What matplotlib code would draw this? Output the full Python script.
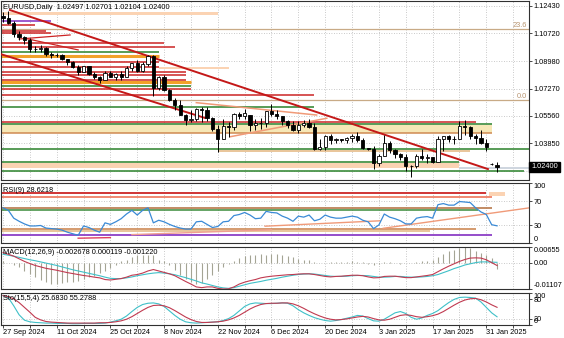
import numpy as np
import matplotlib.pyplot as plt

plt.rcParams['font.family'] = 'Liberation Sans'
plt.rcParams['font.size'] = 5.3

# daily EURUSD bars, 27 Sep 2024 .. 3 Feb 2025
opens = [1.1177, 1.1163, 1.1135, 1.1068, 1.1047, 1.1030, 1.0975, 1.0974, 1.0979, 1.0940,
         1.0936, 1.0937, 1.0908, 1.0890, 1.0862, 1.0830, 1.0866, 1.0817, 1.0797, 1.0781,
         1.0826, 1.0797, 1.0815, 1.0797, 1.0856, 1.0884, 1.0834, 1.0879, 1.0930, 1.0730,
         1.0800, 1.0720, 1.0655, 1.0623, 1.0565, 1.0530, 1.0540, 1.0600, 1.0595, 1.0543,
         1.0473, 1.0415, 1.0495, 1.0488, 1.0570, 1.0553, 1.0560, 1.0497, 1.0510, 1.0512,
         1.0587, 1.0568, 1.0555, 1.0527, 1.0500, 1.0467, 1.0500, 1.0515, 1.0490, 1.0350,
         1.0364, 1.0430, 1.0405, 1.0410, 1.0405, 1.0422, 1.0429, 1.0408, 1.0354, 1.0350,
         1.0266, 1.0307, 1.0388, 1.0344, 1.0318, 1.0299, 1.0244, 1.0247, 1.0308, 1.0292,
         1.0300, 1.0272, 1.0415, 1.0432, 1.0410, 1.0415, 1.0495, 1.0490, 1.0430, 1.0420,
         1.0390, 1.0256, 1.02497]
highs = [1.1202, 1.1209, 1.1144, 1.1083, 1.1053, 1.1044, 1.0990, 1.0999, 1.0985, 1.0955,
         1.0950, 1.0941, 1.0913, 1.0898, 1.0874, 1.0869, 1.0867, 1.0829, 1.0803, 1.0837,
         1.0835, 1.0824, 1.0834, 1.0870, 1.0886, 1.0905, 1.0889, 1.0937, 1.0937, 1.0805,
         1.0810, 1.0725, 1.0665, 1.0653, 1.0571, 1.0595, 1.0608, 1.0610, 1.0610, 1.0549,
         1.0497, 1.0535, 1.0517, 1.0576, 1.0580, 1.0597, 1.0565, 1.0537, 1.0545, 1.0590,
         1.0630, 1.0592, 1.0557, 1.0532, 1.0525, 1.0522, 1.0533, 1.0535, 1.0513, 1.0411,
         1.0440, 1.0445, 1.0420, 1.0415, 1.0428, 1.0443, 1.0455, 1.0420, 1.0360, 1.0370,
         1.0320, 1.0436, 1.0400, 1.0348, 1.0323, 1.0320, 1.0250, 1.0321, 1.0353, 1.0320,
         1.0303, 1.0432, 1.0433, 1.0439, 1.0430, 1.0522, 1.0533, 1.0495, 1.0445, 1.0466,
         1.0410, 1.0262, 1.02701]
lows = [1.1139, 1.1129, 1.1046, 1.1030, 1.1006, 1.0951, 1.0955, 1.0954, 1.0930, 1.0915,
        1.0925, 1.0902, 1.0871, 1.0855, 1.0810, 1.0830, 1.0811, 1.0785, 1.0761, 1.0781,
        1.0796, 1.0780, 1.0779, 1.0797, 1.0839, 1.0830, 1.0830, 1.0869, 1.0683, 1.0715,
        1.0713, 1.0652, 1.0595, 1.0560, 1.0497, 1.0517, 1.0522, 1.0520, 1.0523, 1.0460,
        1.0332, 1.0410, 1.0423, 1.0469, 1.0535, 1.0540, 1.0460, 1.0470, 1.0477, 1.0490,
        1.0558, 1.0537, 1.0502, 1.0480, 1.0460, 1.0452, 1.0490, 1.0480, 1.0343, 1.0343,
        1.0343, 1.0380, 1.0390, 1.0395, 1.0390, 1.0393, 1.0395, 1.0350, 1.0345, 1.0226,
        1.0246, 1.0306, 1.0323, 1.0292, 1.0280, 1.0214, 1.0178, 1.0233, 1.0285, 1.0265,
        1.0266, 1.0267, 1.0340, 1.0395, 1.0380, 1.0410, 1.0439, 1.0410, 1.0380, 1.0380,
        1.0340, 1.0253, 1.02104]
closes = [1.1163, 1.1135, 1.1068, 1.1047, 1.1030, 1.0975, 1.0974, 1.0979, 1.0940, 1.0936,
          1.0937, 1.0908, 1.0890, 1.0862, 1.0830, 1.0866, 1.0817, 1.0797, 1.0781, 1.0826,
          1.0797, 1.0815, 1.0797, 1.0856, 1.0884, 1.0834, 1.0879, 1.0930, 1.0730, 1.0800,
          1.0720, 1.0655, 1.0623, 1.0565, 1.0530, 1.0540, 1.0600, 1.0595, 1.0543, 1.0473,
          1.0415, 1.0495, 1.0488, 1.0570, 1.0553, 1.0577, 1.0497, 1.0510, 1.0512, 1.0587,
          1.0568, 1.0555, 1.0527, 1.0500, 1.0467, 1.0500, 1.0515, 1.0490, 1.0350, 1.0364,
          1.0430, 1.0405, 1.0410, 1.0405, 1.0422, 1.0429, 1.0408, 1.0354, 1.0350, 1.0266,
          1.0307, 1.0388, 1.0344, 1.0318, 1.0299, 1.0244, 1.0247, 1.0308, 1.0292, 1.0300,
          1.0272, 1.0415, 1.0432, 1.0410, 1.0415, 1.0495, 1.0490, 1.0430, 1.0420, 1.0390,
          1.0362, 1.0259, 1.02400]

rsi = [58.7, 54.4, 41.4, 36.2, 31.8, 28.4, 28.4, 29.2, 24.9, 24.0,
       23.2, 21.4, 18.0, 15.4, 12.8, 28.4, 25.8, 21.4, 18.0, 33.6,
       31.0, 35.3, 40.5, 48.3, 54.4, 46.6, 54.4, 58.7, 33.6, 37.9,
       35.3, 31.0, 27.5, 24.9, 23.2, 23.2, 35.3, 36.2, 31.0, 25.8,
       27.5, 35.3, 36.2, 45.7, 47.5, 50.9, 46.6, 40.5, 41.4, 52.7,
       50.9, 50.1, 44.8, 41.4, 36.2, 44.8, 43.1, 46.6, 37.0, 39.6,
       46.6, 43.1, 41.4, 41.4, 43.1, 44.8, 43.1, 37.9, 35.3, 24.0,
       30.1, 48.3, 43.1, 40.5, 37.0, 31.8, 31.8, 41.4, 43.1, 44.0,
       41.4, 63.9, 65.7, 63.1, 63.1, 69.1, 68.3, 67.4, 58.7, 51.8,
       47.5, 30.5, 28.6218]

macd_hist = [0.0005, -0.0003, -0.0008, -0.0020, -0.0035, -0.0048, -0.0060, -0.0072, -0.0082, -0.0088,
             -0.0088, -0.0085, -0.0083, -0.0080, -0.0076, -0.0070, -0.0062, -0.0055, -0.0045, -0.0035,
             -0.0022, -0.0010, 0.0005, 0.0012, 0.0022, 0.0030, 0.0033, 0.0034, 0.0030, 0.0012,
             0.0005, -0.0010, -0.0030, -0.0050, -0.0068, -0.0082, -0.0088, -0.0084, -0.0070, -0.0052,
             -0.0035, -0.0020, -0.0005, 0.0008, 0.0018, 0.0026, 0.0030, 0.0034, 0.0035, 0.0033,
             0.0038, 0.0038, 0.0033, 0.0028, 0.0022, 0.0016, 0.0012, 0.0009, 0.0004, -0.0003,
             -0.0002, 0.0003, 0.0002, 0.0001, 0.0003, 0.0005, 0.0004, 0.0002, -0.0004, -0.0008,
             -0.0006, 0.0002, 0.0001, 0.0000, -0.0004, -0.0003, -0.0002, 0.0003, 0.0005, 0.0008,
             0.0012, 0.0025, 0.0038, 0.0048, 0.0055, 0.0062, 0.00655, 0.0060, 0.0050, 0.0042,
             0.0032, 0.0018, -0.002678]
macd_red = [0.0042, 0.0035, 0.0027, 0.0016, 0.0005, -0.0004, -0.0012, -0.0018, -0.0024, -0.0028,
            -0.0032, -0.0037, -0.0042, -0.0046, -0.0050, -0.0054, -0.0057, -0.0061, -0.0064, -0.0071,
            -0.0073, -0.0070, -0.0067, -0.0061, -0.0053, -0.0050, -0.0044, -0.0035, -0.0029, -0.0035,
            -0.0041, -0.0047, -0.0055, -0.0067, -0.0079, -0.0090, -0.0102, -0.0105, -0.0102, -0.0102,
            -0.0108, -0.01107, -0.0110, -0.0102, -0.0090, -0.0082, -0.0076, -0.0071, -0.0064, -0.0060,
            -0.0057, -0.0055, -0.0053, -0.0051, -0.0050, -0.0048, -0.0047, -0.0047, -0.0050, -0.0054,
            -0.0058, -0.0060, -0.0058, -0.0057, -0.0055, -0.0053, -0.0053, -0.0055, -0.0060, -0.0064,
            -0.0063, -0.0058, -0.0057, -0.0057, -0.0060, -0.0063, -0.0063, -0.0060, -0.0057, -0.0054,
            -0.0050, -0.0038, -0.0026, -0.0015, -0.0005, 0.0005, 0.0013, 0.0019, 0.0020, 0.0019,
            0.0012, 0.0000, -0.001220]
macd_cyan = [0.0035, 0.0031, 0.0027, 0.0022, 0.0017, 0.0012, 0.0008, 0.0003, -0.0002, -0.0007,
             -0.0012, -0.0018, -0.0024, -0.0030, -0.0035, -0.0040, -0.0045, -0.0050, -0.0055, -0.0061,
             -0.0066, -0.0067, -0.0067, -0.0064, -0.0060, -0.0055, -0.0051, -0.0047, -0.0044, -0.0042,
             -0.0044, -0.0047, -0.0051, -0.0057, -0.0063, -0.0070, -0.0077, -0.0085, -0.0090, -0.0096,
             -0.0102, -0.0106, -0.0108, -0.0105, -0.0099, -0.0093, -0.0087, -0.0083, -0.0079, -0.0074,
             -0.0070, -0.0066, -0.0061, -0.0057, -0.0053, -0.0050, -0.0048, -0.0047, -0.0048, -0.0051,
             -0.0054, -0.0057, -0.0058, -0.0058, -0.0057, -0.0055, -0.0054, -0.0054, -0.0055, -0.0058,
             -0.0061, -0.0061, -0.0060, -0.0058, -0.0058, -0.0060, -0.0061, -0.0061, -0.0060, -0.0058,
             -0.0055, -0.0050, -0.0042, -0.0034, -0.0025, -0.0018, -0.0010, -0.0005, 0.0000, 0.0003,
             0.0003, 0.0002, 0.000119]

sto_main = [92, 85, 60, 32, 15, 10, 8, 7, 6, 6,
            5, 5, 5, 4, 4, 5, 5, 5, 5, 6,
            9, 13, 18, 28, 42, 55, 64, 68, 69, 66,
            58, 44, 30, 18, 10, 7, 6, 7, 8, 9,
            10, 14, 20, 30, 44, 58, 66, 69, 68, 67,
            67, 68, 69, 68, 60, 48, 38, 30, 23, 18,
            14, 12, 14, 17, 21, 25, 30, 28, 20, 13,
            12, 18, 28, 38, 42, 36, 24, 18, 22, 30,
            36, 45, 58, 70, 80, 86, 87, 86, 84, 72,
            55, 38, 25.6830]
sto_signal = [92, 88, 82, 70, 55, 40, 24, 16, 11, 9,
              8, 7, 6, 6, 6, 6, 6, 6, 7, 7,
              8, 10, 13, 18, 26, 36, 46, 55, 61, 62,
              60, 54, 45, 35, 25, 17, 11, 8, 8, 9,
              10, 12, 16, 22, 30, 40, 50, 58, 64, 67,
              68, 68, 69, 69, 66, 60, 52, 43, 35, 28,
              22, 18, 16, 17, 19, 22, 25, 27, 25, 20,
              16, 15, 18, 24, 30, 32, 30, 26, 24, 26,
              29, 34, 42, 52, 62, 71, 78, 82, 83, 79,
              72, 63, 55.2788]

date_labels = ['27 Sep 2024', '11 Oct 2024', '25 Oct 2024', '8 Nov 2024', '22 Nov 2024',
               '6 Dec 2024', '20 Dec 2024', '3 Jan 2025', '17 Jan 2025', '31 Jan 2025']
date_bars = [0, 10, 20, 30, 40, 50, 60, 70, 80, 90]
price_ticks = [1.12430, 1.10720, 1.08980, 1.07270, 1.05560, 1.03850, 1.02140]

# support / resistance lines: price and last bar
red_levels = [1.1122, 1.1085, 1.1072, 1.1010, 1.0985, 1.0892, 1.0861, 1.0830, 1.0811, 1.0780, 1.0724, 1.0687, 1.0519]
red_ends = [6, 8, 9, 30, 32, 29, 29, 34, 34, 34, 35, 58, 88]
green_levels = [1.0954, 1.0743, 1.0614, 1.0506, 1.0351, 1.0270, 1.0214]
green_ends = [29, 35, 58, 91, 98, 85, 97]
orange_levels = [1.0929, 1.0767]
orange_ends = [29, 35]
# zones: low, high, first bar, last bar
peach_zones = [(1.1184, 1.1203, -1, 40), (1.0848, 1.0861, 29, 42), (1.0233, 1.0264, -1, 85)]
yellow_zones = [(1.0450, 1.0500, -1, 91)]
tan_zones = [(1.0332, 1.0344, 40, 87)]
grey_zones = [(1.0226, 1.0236, 85, 98)]
fib_levels = [1.1097, 1.0656]
fib_names = ['23.6', '0.0']
# trendlines as (bar, price) pairs
trend_main = [(1.3, 1.1215), (90.3, 1.0226)]
trend_low = [(-1, 1.0947), (37.6, 1.0544)]
fan_lines = [[(3, 1.1035), (12.5, 1.1060)], [(4, 1.1040), (14, 1.0967)]]
triangle_lines = [[(42.3, 1.0427), (60.3, 1.0542)], [(36, 1.0639), (58.4, 1.0562)]]

W, H = 564, 338
fig = plt.figure(figsize=(W / 100, H / 100), dpi=100)


def panel(top, bottom):
    a = fig.add_axes([1 / W, 1 - bottom / H, 528 / W, (bottom - top) / H])
    a.set_xlim(-0.37, 97.95)
    a.set_xticks(range(0, 98, 5))
    a.tick_params(axis='x', length=0, labelbottom=False)
    a.yaxis.tick_right()
    a.tick_params(axis='y', length=2, width=0.5, pad=1.5, colors='black')
    a.grid(True, color='#b8b8b8', linestyle=(0, (1, 2)), linewidth=0.6)
    a.set_axisbelow(True)
    for s in a.spines.values():
        s.set_color('#303030')
        s.set_linewidth(0.8)
    return a


ax = panel(1, 180)
ax_rsi = panel(183, 243)
ax_macd = panel(247, 289)
ax_sto = panel(293, 325)

bars = np.arange(len(closes))
o = np.array(opens)
c = np.array(closes)

# zones and lines on the price chart
for zones, col in [(peach_zones, '#fbd3b3'), (yellow_zones, '#f6e7b6'),
                   (tan_zones, '#e9c69c'), (grey_zones, '#cfd6df')]:
    for lo, hi, s, e in zones:
        ax.fill_between([s, e], lo, hi, color=col, lw=0, zorder=1)
for p in fib_levels:
    ax.axhline(p, color='#c8aa86', lw=0.9, zorder=1.5)
for p, n in zip(fib_levels, fib_names):
    ax.text(97.6, p + 0.0002, n, color='#b89470', ha='right', va='bottom', fontsize=5.3)
ax.hlines(red_levels, -1, red_ends, colors='#cc2424', lw=1.1, zorder=2)
ax.hlines(green_levels, -1, green_ends, colors='#3b8b3b', lw=1.2, zorder=2)
ax.hlines(orange_levels, -1, orange_ends, colors='#f2a12a', lw=2.2, zorder=2)
ax.hlines([1.0450], -1, 91, colors='#cf8a52', lw=1.1, zorder=2)
ax.hlines([1.1147], -1, 9, colors='#8c3fc6', lw=1.2, zorder=2)
for ln in fan_lines:
    ax.plot(*zip(*ln), color='#cc2424', lw=0.9, zorder=2)
for ln in triangle_lines:
    ax.plot(*zip(*ln), color='#f09a78', lw=1.1, zorder=2)
for ln in (trend_main, trend_low):
    ax.plot(*zip(*ln), color='#c41818', lw=1.4, zorder=3)

# candles
ax.vlines(bars, lows, highs, color='black', lw=0.7, zorder=4)
body_lo = np.minimum(o, c)
body_h = np.maximum(np.abs(c - o), 0.00012)
ax.bar(bars, body_h, bottom=body_lo, width=0.6, color=np.where(c >= o, 'white', 'black'),
       edgecolor='black', linewidth=0.6, zorder=5)

ax.set_ylim(1.01579, 1.12713)
ax.set_yticks(price_ticks)
ax.set_yticklabels(['%.5f' % p for p in price_ticks])
ax.text(0.004, 0.985, 'EURUSD,Daily  1.02497 1.02701 1.02104 1.02400', transform=ax.transAxes,
        ha='left', va='top', fontsize=5.3)
ax.text(1.004, closes[-1], '%.5f' % closes[-1], transform=ax.get_yaxis_transform(), color='white',
        ha='left', va='center', fontsize=5.3, zorder=10, clip_on=False,
        bbox=dict(facecolor='black', edgecolor='black', pad=1.2))

# RSI window
ax_rsi.fill_between([-1, 79.5], 18.3, 21.7, color='#e9c69c', lw=0, zorder=1)
ax_rsi.fill_between([90.5, 93.5], 78, 85, color='#fbd3b3', lw=0, zorder=1)
ax_rsi.hlines([83.3], -1, 90, colors='#cc2424', lw=1.3, zorder=2)
ax_rsi.hlines([77.5], -1, 91, colors='#ec6a4c', lw=1.1, zorder=2)
ax_rsi.hlines([58.3], -1, 91, colors='#b8784a', lw=1.2, zorder=2)
ax_rsi.hlines([55.5], -1, 88.5, colors='#3b8b3b', lw=1.1, zorder=2)
ax_rsi.hlines([23.8], -1, 88, colors='#c98048', lw=1.1, zorder=2)
ax_rsi.hlines([12.8], -1, 91, colors='#8c3fc6', lw=1.3, zorder=2)
ax_rsi.plot([70.8, 97.95], [24.5, 58.5], color='#f09a78', lw=1.0, zorder=2)
ax_rsi.plot([48.8, 70.2], [28, 37], color='#f09a78', lw=1.0, zorder=2)
ax_rsi.plot([24, 50], [14, 22], color='#f0a090', lw=1.0, zorder=2)
ax_rsi.plot([14, 20], [8, 9], color='#e04060', lw=1.0, zorder=2)
ax_rsi.plot(bars, rsi, color='#3a8ad6', lw=0.9, zorder=4)
ax_rsi.set_ylim(0, 100)
ax_rsi.set_yticks([100, 70, 30, 0])
ax_rsi.set_yticklabels(['100', '70', '30', '0'])
ax_rsi.get_yticklabels()[0].set_va('top')
ax_rsi.get_yticklabels()[3].set_va('bottom')
ax_rsi.text(0.004, 0.93, 'RSI(9) %.4f' % rsi[-1], transform=ax_rsi.transAxes, ha='left', va='top')

# MACD window
ax_macd.vlines(bars, 0, macd_hist, color='#a4a494', lw=0.8, zorder=2)
ax_macd.plot(bars, macd_cyan, color='#3fc0c8', lw=0.8, zorder=3)
ax_macd.plot(bars, macd_red, color='#c03a50', lw=0.8, zorder=3)
ax_macd.set_ylim(-0.01107, 0.00655)
ax_macd.set_yticks([0.00655, 0, -0.01107])
ax_macd.set_yticklabels(['0.00655', '0.00', '-0.01107'])
ax_macd.get_yticklabels()[0].set_va('top')
ax_macd.get_yticklabels()[2].set_va('bottom')
ax_macd.text(0.004, 0.95, 'MACD(12,26,9) %.6f %.6f %.6f' % (macd_hist[-1], macd_cyan[-1], macd_red[-1]),
             transform=ax_macd.transAxes, ha='left', va='top')

# Stochastic window
ax_sto.plot(bars, sto_main, color='#3fc0c8', lw=0.8, zorder=3)
ax_sto.plot(bars, sto_signal, color='#c03a50', lw=0.8, zorder=3)
ax_sto.set_ylim(0, 100)
ax_sto.set_yticks([100, 80, 20, 0])
ax_sto.set_yticklabels(['100', '80', '20', '0'])
ax_sto.get_yticklabels()[0].set_va('top')
ax_sto.get_yticklabels()[3].set_va('bottom')
ax_sto.text(0.004, 0.93, 'Sto(15,5,4) %.4f %.4f' % (sto_main[-1], sto_signal[-1]),
            transform=ax_sto.transAxes, ha='left', va='top')

ax_sto.set_xticks(range(0, 98, 5))
ax_sto.set_xticklabels([date_labels[date_bars.index(b)] if b in date_bars else '' for b in range(0, 98, 5)],
                       ha='left')
ax_sto.tick_params(axis='x', length=2, width=0.5, pad=1, labelbottom=True)

fig.savefig('out.png', dpi=100)
